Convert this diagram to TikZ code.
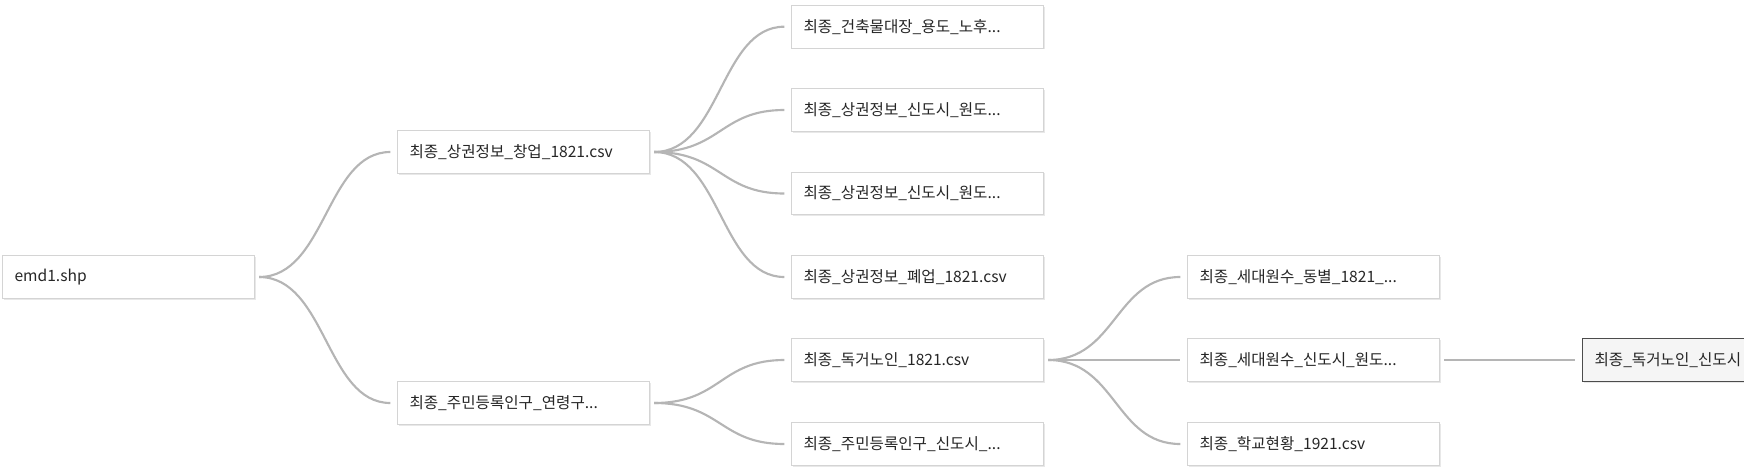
\documentclass[tikz,border=0pt]{standalone}
\usepackage{xcolor}
\usepackage{fontspec}
\setmainfont{Noto Sans CJK KR}
\usepackage{tikz}
\usetikzlibrary{shadows}

\definecolor{linkgray}{HTML}{B5B5B5}
\definecolor{boxgray}{HTML}{D4D4D4}
\definecolor{textgray}{HTML}{262626}

\begin{document}
\begin{tikzpicture}[x=0.75pt, y=-0.75pt, font=\fontsize{11.7}{13}\selectfont]
			\tikzstyle{file} = [rectangle, anchor=west, minimum height=32pt, text width=171pt, inner xsep=9pt, align=left, draw=boxgray, fill=white, line width=0.8pt, text=textgray, drop shadow={shadow xshift=0.9pt, shadow yshift=-0.9pt, fill=black!18}]
			
			\tikzstyle{current} = [file, draw=black!70, fill=black!4]
			
			\tikzstyle{link} = [draw=linkgray, line width=1.6pt, shorten <=3pt, shorten >=5pt]
			
			\useasboundingbox (0,0) rectangle (1744,472);
			
			% Root node
			\node (emd) [file] at (2,277) {emd1.shp};
			
			% Level 1 nodes
			\node (chang) [file] at (397,152) {최종\_상권정보\_창업\_1821.csv};
			\node (pop) [file] at (397,403) {최종\_주민등록인구\_연령구...};
			
			% Level 2 nodes
			\node (bld) [file] at (791,26.7) {최종\_건축물대장\_용도\_노후...};
			\node (sinA) [file] at (791,110) {최종\_상권정보\_신도시\_원도...};
			\node (sinB) [file] at (791,193.5) {최종\_상권정보\_신도시\_원도...};
			\node (close) [file] at (791,277) {최종\_상권정보\_폐업\_1821.csv};
			\node (dok) [file] at (791,360) {최종\_독거노인\_1821.csv};
			\node (popsin) [file] at (791,444) {최종\_주민등록인구\_신도시\_...};
			
			% Level 3 nodes
			\node (dong) [file] at (1187,277) {최종\_세대원수\_동별\_1821\_...};
			\node (sewon) [file] at (1187,360) {최종\_세대원수\_신도시\_원도...};
			\node (school) [file] at (1187,444) {최종\_학교현황\_1921.csv};
			
			% Level 4 node
			\node (doksin) [current] at (1582,360) {최종\_독거노인\_신도시};
			
			% Links
			\foreach \child in {chang, pop}
				\draw [link] (emd.east) .. controls +(71,0) and +(-71,0) .. (\child.west);
			\foreach \child in {bld, sinA, sinB, close}
				\draw [link] (chang.east) .. controls +(71,0) and +(-71,0) .. (\child.west);
			\foreach \child in {dok, popsin}
				\draw [link] (pop.east) .. controls +(71,0) and +(-71,0) .. (\child.west);
			\foreach \child in {dong, sewon, school}
				\draw [link] (dok.east) .. controls +(72,0) and +(-72,0) .. (\child.west);
			\draw [link] (sewon.east) -- (doksin.west);
		\end{tikzpicture}
\end{document}
